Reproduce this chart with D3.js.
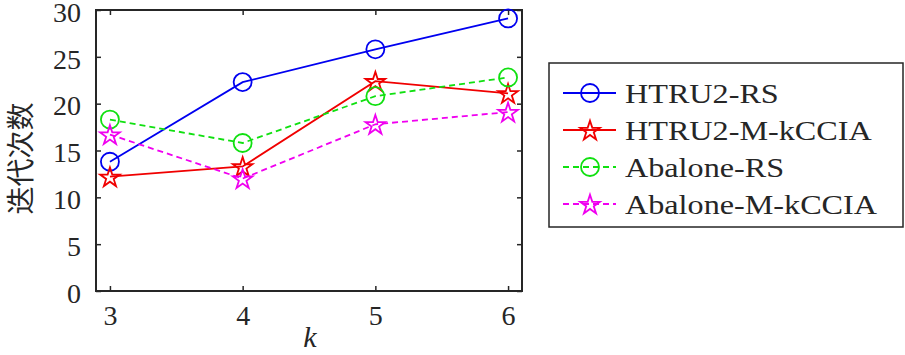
<!DOCTYPE html>
<html><head><meta charset="utf-8">
<script src="https://cdn.jsdelivr.net/npm/d3@7"></script>
<style>
body{margin:0;background:#fff}svg{display:block}
</style>
</head><body><svg id="c" width="905" height="355"></svg>
<script>
const categories=[3,4,5,6];
const xTicks=[3,4,5,6];
const yTicks=[0,5,10,15,20,25,30];
const seriesNames=["HTRU2-RS","HTRU2-M-kCCIA","Abalone-RS","Abalone-M-kCCIA"];
const htru2RS=[13.8,22.3,25.8,29.1];
const htru2MK=[12.2,13.3,22.4,21.1];
const abaloneRS=[18.3,15.8,20.8,22.8];
const abaloneMK=[16.7,12.0,17.8,19.1];
const xLabel="k", yLabel="迭代次数";

const SERIF='"Liberation Serif", "Times New Roman", "DejaVu Serif", serif';
const styles=[
 {color:"#0000f0",dash:null,marker:"circle"},
 {color:"#f00000",dash:null,marker:"star"},
 {color:"#10e010",dash:"6,4",marker:"circle"},
 {color:"#f000f0",dash:"6,4",marker:"star"}
];
const seriesVals=[htru2RS,htru2MK,abaloneRS,abaloneMK];

const svg=d3.select("#c");
const L=96,R=522,T=10,B=291;
const x=d3.scaleLinear().domain([2.895,6.105]).range([L,R]);
const y=d3.scaleLinear().domain([0,30]).range([B,T]);
const axisColor="#262626";

svg.append("rect").attr("x",L).attr("y",T).attr("width",R-L).attr("height",B-T)
 .attr("fill","none").attr("stroke",axisColor).attr("stroke-width",2);

const tl=5;
const gx=svg.append("g").attr("transform",`translate(0,${B})`)
 .call(d3.axisBottom(x).tickValues(xTicks).tickSize(-tl).tickPadding(14).tickFormat(d3.format("d")));
const gxt=svg.append("g").attr("transform",`translate(0,${T})`)
 .call(d3.axisTop(x).tickValues(xTicks).tickSize(-tl).tickFormat(""));
const gy=svg.append("g").attr("transform",`translate(${L},0)`)
 .call(d3.axisLeft(y).tickValues(yTicks).tickSize(-tl).tickPadding(15).tickFormat(d3.format("d")));
const gyr=svg.append("g").attr("transform",`translate(${R},0)`)
 .call(d3.axisRight(y).tickValues(yTicks).tickSize(-tl).tickFormat(""));
[gx,gxt,gy,gyr].forEach(g=>{
 g.attr("font-family",null).attr("font-size",null);
 g.select(".domain").remove();
 g.selectAll(".tick line").attr("stroke",axisColor).attr("stroke-width",1.5);
 g.selectAll(".tick text").attr("fill",axisColor).style("font-family",SERIF).style("font-size","28px");
});
gy.selectAll(".tick text").attr("dy","0.4em");

const line=d3.line().x((d,i)=>x(categories[i])).y(d=>y(d));
const star=d3.symbol().type(d3.symbolStar).size(120);
function drawMarker(g,type,color,cx,cy){
 if(type==="circle"){
  g.append("circle").attr("cx",cx).attr("cy",cy).attr("r",9)
   .attr("fill","none").attr("stroke",color).attr("stroke-width",1.8);
 } else {
  g.append("path").attr("d",star()).attr("transform",`translate(${cx},${cy+1})`)
   .attr("fill","none").attr("stroke",color).attr("stroke-width",1.8);
 }
}
seriesVals.forEach((vals,s)=>{
 const st=styles[s];
 const g=svg.append("g");
 g.append("path").datum(vals).attr("d",line).attr("fill","none")
  .attr("stroke",st.color).attr("stroke-width",1.8).attr("stroke-dasharray",st.dash);
 vals.forEach((v,i)=>drawMarker(g,st.marker,st.color,x(categories[i]),y(v)));
});

svg.append("text").attr("x",(L+R)/2+1).attr("y",347).attr("text-anchor","middle")
 .style("font-family",SERIF).style("font-size","30px").style("font-style","italic")
 .attr("fill",axisColor).text(xLabel);
svg.append("text").attr("transform",`translate(31,${(T+B)/2+8}) rotate(-90)`)
 .attr("text-anchor","middle").attr("fill",axisColor)
 .style("font-family",'"Noto Sans CJK SC", sans-serif').style("font-size","28px").text(yLabel);

const lg=svg.append("g");
lg.append("rect").attr("x",549).attr("y",63).attr("width",354).attr("height",164)
 .attr("fill","#fff").attr("stroke",axisColor).attr("stroke-width",1.5);
const ly=[93,130,167,204];
seriesNames.forEach((n,s)=>{
 const st=styles[s];
 lg.append("line").attr("x1",563).attr("x2",616).attr("y1",ly[s]).attr("y2",ly[s])
  .attr("stroke",st.color).attr("stroke-width",1.8).attr("stroke-dasharray",st.dash);
 drawMarker(lg,st.marker,st.color,590,ly[s]);
 lg.append("text").attr("x",625).attr("y",ly[s]).attr("dy","0.35em")
  .style("font-family",SERIF).style("font-size","28px").attr("fill",axisColor)
  .attr("transform","translate(625,0) scale(1.15,1) translate(-625,0)").text(n);
});
</script></body></html>
